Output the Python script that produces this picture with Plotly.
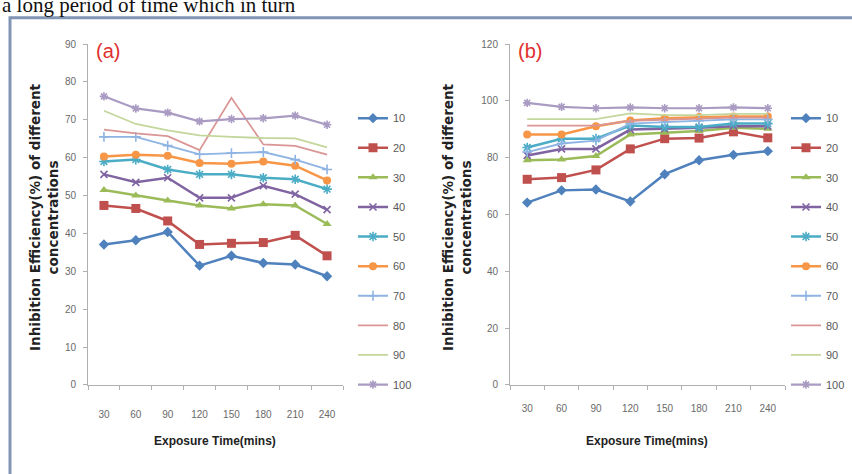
import plotly.graph_objects as go

W, H = 852, 474

times = ["30", "60", "90", "120", "150", "180", "210", "240"]
concentrations = ["10", "20", "30", "40", "50", "60", "70", "80", "90", "100"]

# Panel (a)
a10 = [37.1, 38.2, 40.4, 31.5, 34.1, 32.2, 31.8, 28.7]
a20 = [47.4, 46.6, 43.3, 37.1, 37.4, 37.6, 39.5, 34.1]
a30 = [51.5, 50.0, 48.7, 47.4, 46.6, 47.7, 47.4, 42.5]
a40 = [55.6, 53.5, 54.7, 49.4, 49.4, 52.6, 50.4, 46.3]
a50 = [59.0, 59.5, 56.9, 55.6, 55.6, 54.7, 54.3, 51.7]
a60 = [60.3, 60.8, 60.5, 58.6, 58.4, 59.0, 57.9, 54.0]
a70 = [65.5, 65.5, 63.2, 60.9, 61.2, 61.5, 59.5, 56.9]
a80 = [67.4, 66.4, 65.7, 62.0, 75.8, 63.5, 63.1, 60.8]
a90 = [72.4, 68.9, 67.2, 65.9, 65.5, 65.2, 65.1, 62.7]
a100 = [76.2, 73.0, 71.9, 69.6, 70.2, 70.4, 71.1, 68.7]

# Panel (b)
b10 = [64.2, 68.5, 68.8, 64.6, 74.2, 79.1, 81.0, 82.3]
b20 = [72.4, 73.0, 75.7, 83.1, 86.7, 86.9, 89.1, 87.0]
b30 = [79.1, 79.4, 80.6, 88.2, 88.8, 89.4, 90.5, 90.2]
b40 = [80.8, 83.1, 83.1, 89.9, 90.2, 90.5, 91.1, 91.1]
b50 = [83.6, 86.7, 86.7, 91.3, 90.8, 90.8, 92.0, 92.0]
b60 = [88.2, 88.2, 91.1, 93.1, 93.9, 94.3, 94.5, 94.5]
b70 = [82.0, 85.0, 86.0, 92.0, 92.5, 93.0, 93.5, 93.5]
b80 = [91.3, 91.3, 91.3, 93.0, 93.4, 93.7, 94.1, 94.1]
b90 = [93.6, 93.6, 93.6, 95.6, 95.0, 95.0, 95.4, 95.4]
b100 = [99.3, 97.9, 97.4, 97.7, 97.4, 97.4, 97.7, 97.4]

series_a = [a10, a20, a30, a40, a50, a60, a70, a80, a90, a100]
series_b = [b10, b20, b30, b40, b50, b60, b70, b80, b90, b100]

colors = ["#4F81BD", "#C0504D", "#9BBB59", "#8064A2", "#4BACC6",
          "#F79646", "#8EB4E3", "#D99694", "#C3D69B", "#A99BC2"]
symbols = ["diamond", "square", "triangle-up", "x-thin-open", "asterisk-open",
           "circle", "cross-thin-open", None, None, "asterisk-open"]
sizes = [8, 9, 8, 7, 8, 8, 7, 0, 0, 7]
widths = [2.5, 2.5, 2.5, 2.5, 2.5, 2.5, 1.8, 1.8, 1.8, 2.2]

fig = go.Figure()

def add_panel(series, xa, ya, leg, tag):
    for i, (name, vals) in enumerate(zip(concentrations, series)):
        mk = dict(color=colors[i], size=sizes[i])
        mode = "lines+markers"
        if symbols[i] is None:
            mode = "lines"
        else:
            mk["symbol"] = symbols[i]
            if symbols[i].endswith("open"):
                mk["line"] = dict(color=colors[i], width=1.6)
        fig.add_trace(go.Scatter(
            x=times, y=vals, name=name, mode=mode,
            line=dict(color=colors[i], width=widths[i]),
            marker=mk, xaxis=xa, yaxis=ya, legend=leg,
            legendgroup=f"{tag}{name}"))

add_panel(series_a, "x", "y", "legend", "a")
add_panel(series_b, "x2", "y2", "legend2", "b")

tickfont = dict(family="Liberation Sans Narrow, Liberation Sans, sans-serif", size=10, color="#6a6a6a")
axcol = "#B0B0B0"

ydom = [1 - 389 / H, 1 - 40 / H]
common_x = dict(type="category", showline=True, linecolor=axcol, linewidth=1,
                ticks="outside", tickson="boundaries", ticklen=4, tickcolor=axcol,
                showgrid=False, zeroline=False, tickfont=tickfont, range=[-0.5, 7.5])
common_y = dict(showline=True, linecolor=axcol, linewidth=1, ticks="outside",
                ticklen=4, tickcolor=axcol, showgrid=False, zeroline=False,
                tickfont=tickfont, ticklabelstandoff=5)

legfont = dict(family="Liberation Sans Narrow, Liberation Sans, sans-serif", size=11, color="#595959")

fig.update_layout(
    width=W, height=H, margin=dict(l=0, r=0, t=0, b=0),
    paper_bgcolor="white", plot_bgcolor="white",
    xaxis=dict(domain=[88 / W, 343 / W], anchor="y", ticklabelstandoff=20, **common_x),
    yaxis=dict(domain=ydom, anchor="x", range=[0, 90], dtick=10, **common_y),
    xaxis2=dict(domain=[510 / W, 785 / W], anchor="y2", ticklabelstandoff=14, **common_x),
    yaxis2=dict(domain=ydom, anchor="x2", range=[0, 120], dtick=20, **common_y),
    legend=dict(x=353 / W, y=1 - 101 / H, xanchor="left", yanchor="top",
                font=legfont, tracegroupgap=10.6, traceorder="grouped",
                bgcolor="rgba(0,0,0,0)", itemwidth=30),
    legend2=dict(x=786 / W, y=1 - 101 / H, xanchor="left", yanchor="top",
                 font=legfont, tracegroupgap=10.6, traceorder="grouped",
                 bgcolor="rgba(0,0,0,0)", itemwidth=30),
    showlegend=True,
)

# frame around the figure
fig.add_shape(type="rect", xref="paper", yref="paper",
              x0=10 / W, y0=-0.05, x1=1.05, y1=1 - 13 / H,
              line=dict(color="#8195B5", width=3), layer="below")

title_font = dict(family="Liberation Sans, sans-serif", size=12, color="#222222")
ytitle_font = dict(family="DejaVu Sans, sans-serif", size=13.5, color="#222222")

anns = [
    dict(text="a long period of time which in turn", x=0, y=1 - 14 / H,
         xanchor="left", yanchor="bottom",
         font=dict(family="Liberation Serif, serif", size=21, color="#111111")),
    dict(text="<b>Exposure Time(mins)</b>", x=215 / W, y=1 - 446 / H,
         xanchor="center", yanchor="middle", font=title_font),
    dict(text="<b>Exposure Time(mins)</b>", x=647 / W, y=1 - 446 / H,
         xanchor="center", yanchor="middle", font=title_font),
    dict(text="<b>Inhibition Efficiency(%) of different<br>concentrations</b>",
         x=44 / W, y=1 - 217 / H, textangle=-90, xanchor="center", yanchor="middle",
         font=ytitle_font),
    dict(text="<b>Inhibition Efficiency(%) of different<br>concentrations</b>",
         x=457 / W, y=1 - 217 / H, textangle=-90, xanchor="center", yanchor="middle",
         font=ytitle_font),
    dict(text="(a)", x=108 / W, y=1 - 47 / H, xanchor="center", yanchor="middle",
         font=dict(family="Liberation Sans Narrow, Liberation Sans, sans-serif", size=20, color="#E0302E")),
    dict(text="(b)", x=530 / W, y=1 - 47 / H, xanchor="center", yanchor="middle",
         font=dict(family="Liberation Sans Narrow, Liberation Sans, sans-serif", size=20, color="#E0302E")),
]
for a in anns:
    fig.add_annotation(xref="paper", yref="paper", showarrow=False, **a)

fig.write_html("out.html")
